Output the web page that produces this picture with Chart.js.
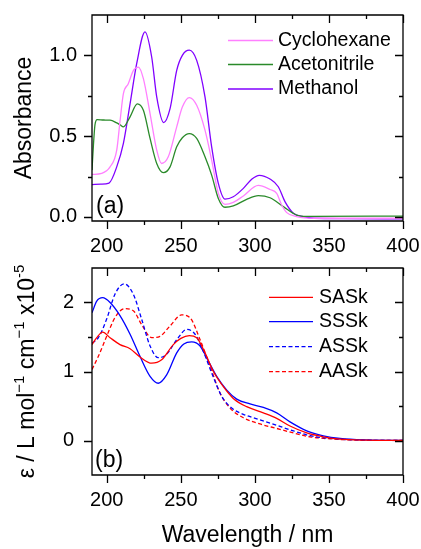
<!DOCTYPE html>
<html>
<head>
<meta charset="utf-8">
<script src="https://cdn.jsdelivr.net/npm/chart.js@4.4.1/dist/chart.umd.min.js"></script>
<style>
  html, body { margin: 0; padding: 0; background: #fff; }
  #wrap { position: relative; width: 421px; height: 549px; overflow: hidden; }
  canvas { position: absolute; left: 0; }
  #chartA { top: 0; }
  #chartB { top: 250px; }
</style>
</head>
<body>
<div id="wrap">
  <canvas id="chartA" width="421" height="265"></canvas>
  <canvas id="chartB" width="421" height="299"></canvas>
</div>
<script>
// ticks
const xTicks = [200, 250, 300, 350, 400];
const xMinorTicks = [225, 275, 325, 375];
const absTicks = [0, 0.5, 1.0];
const absMinorTicks = [0.25, 0.75];
const epsTicks = [0, 1, 2];
const epsMinorTicks = [0.5, 1.5];

const solventLabels = ['Cyclohexane', 'Acetonitrile', 'Methanol'];
const isomerLabels = ['SASk', 'SSSk', 'ASSk', 'AASk'];

// (a) absorbance in three solvents
const cyclohexaneWl  = [190, 196.5, 202.2, 206.7, 209, 211.2, 214.5, 218, 221.3, 224.7, 229.2, 233.7, 237, 241.5, 247.2, 251, 255.7, 260.7, 266.3, 270.8, 275.3, 279.8, 285.4, 292.2, 302.3, 310.2, 314.7, 318.1, 321.5, 328.2, 340, 400];
const cyclohexaneAbs = [0.263, 0.27, 0.31, 0.414, 0.6, 0.763, 0.825, 0.907, 0.928, 0.856, 0.64, 0.414, 0.331, 0.372, 0.558, 0.68, 0.739, 0.691, 0.537, 0.352, 0.146, 0.078, 0.09, 0.13, 0.195, 0.17, 0.146, 0.074, 0.027, 0.002, -0.008, -0.008];

const acetonitrileWl  = [190, 191, 192, 193.5, 198, 202.2, 206.7, 209, 211.2, 215.7, 220.6, 224.7, 229.2, 233.7, 238.2, 242.7, 247.2, 251, 255.7, 260.7, 266.3, 270.8, 275.3, 279.8, 285.4, 294.4, 302.3, 310.2, 319.2, 328.2, 335, 400];
const acetonitrileAbs = [0.29, 0.45, 0.57, 0.603, 0.60, 0.599, 0.582, 0.57, 0.558, 0.62, 0.70, 0.66, 0.486, 0.331, 0.274, 0.31, 0.434, 0.49, 0.516, 0.486, 0.372, 0.259, 0.115, 0.06, 0.068, 0.109, 0.132, 0.119, 0.064, 0.012, 0.004, 0.005];

const methanolWl  = [190, 196, 201.5, 206.7, 211.2, 215.7, 220.2, 225.8, 230.3, 233.7, 238.4, 242.7, 247.2, 251, 255.7, 260.7, 266.3, 270.8, 275.3, 279.8, 285.4, 292.2, 298, 303, 310.2, 315.8, 320.3, 326, 332.7, 340, 360, 400];
const methanolAbs = [0.20, 0.203, 0.21, 0.31, 0.455, 0.70, 0.95, 1.145, 0.99, 0.743, 0.584, 0.67, 0.907, 1.0, 1.032, 0.969, 0.743, 0.434, 0.208, 0.111, 0.125, 0.177, 0.235, 0.258, 0.235, 0.187, 0.095, 0.023, 0.002, -0.008, -0.01, -0.012];

// (b) molar absorptivity, x1e-5
const sasWl  = [190, 193.2, 197.2, 202.2, 208.9, 215.7, 222.4, 230.3, 237, 244.9, 250, 255.7, 260.7, 266.3, 272, 278.7, 285.4, 294.4, 305.7, 314.7, 323.7, 335, 346.2, 357.5, 375, 400];
const sasEps = [1.39, 1.49, 1.57, 1.49, 1.39, 1.33, 1.21, 1.12, 1.17, 1.39, 1.48, 1.52, 1.49, 1.27, 1.00, 0.78, 0.61, 0.49, 0.40, 0.32, 0.21, 0.11, 0.054, 0.02, 0.005, 0];

const sssWl  = [190, 193.2, 197.2, 202.2, 208.9, 215.7, 222.4, 229.2, 234.8, 240.4, 247.2, 252, 257.3, 263, 268.6, 274.2, 281, 287.7, 296.7, 305.7, 314.7, 323.7, 335, 346.2, 357.5, 375, 400];
const sssEps = [1.85, 2.02, 2.07, 2.0, 1.81, 1.54, 1.22, 0.93, 0.83, 0.95, 1.27, 1.40, 1.43, 1.37, 1.15, 0.93, 0.73, 0.60, 0.53, 0.48, 0.40, 0.27, 0.14, 0.068, 0.03, 0.008, 0];

const assWl  = [190, 194.3, 199.9, 205.5, 211.8, 217.9, 223.5, 229.2, 234.8, 240.4, 247.2, 254, 259.6, 265.2, 270.8, 277.6, 284.3, 292.2, 303.4, 314.7, 326, 337.2, 350.7, 370, 400];
const assEps = [1.41, 1.49, 1.76, 2.12, 2.27, 2.12, 1.76, 1.37, 1.20, 1.25, 1.46, 1.61, 1.54, 1.29, 0.98, 0.64, 0.47, 0.38, 0.30, 0.22, 0.14, 0.07, 0.03, 0.008, 0];

const aasWl  = [190, 194.3, 199.9, 205.5, 211.8, 217.9, 223.5, 230.3, 235.9, 242.7, 250.5, 256.2, 263, 269.7, 276.4, 283.2, 292.2, 303.4, 314.7, 326, 337.2, 350.7, 370, 400];
const aasEps = [1.03, 1.22, 1.51, 1.78, 1.91, 1.88, 1.68, 1.49, 1.51, 1.66, 1.82, 1.78, 1.46, 1.08, 0.69, 0.47, 0.33, 0.24, 0.175, 0.11, 0.054, 0.024, 0.006, 0];

const FONT = "'Liberation Sans', Arial, sans-serif";
Chart.defaults.font.family = FONT;
Chart.defaults.color = '#000';

const pts = (xs, ys) => xs.map((x, i) => ({ x: x, y: ys[i] }));

function lineSet(label, xs, ys, color, dash) {
  return {
    label: label,
    data: pts(xs, ys),
    borderColor: color,
    backgroundColor: color,
    borderWidth: 1.3,
    borderDash: dash || [],
    pointRadius: 0,
    cubicInterpolationMode: 'monotone',
    fill: false
  };
}

// box around the plot with ticks: out on left/bottom, in on top/right
function frameTicks(xMaj, xMin, yMaj, yMin) {
  return {
    id: 'frameTicks',
    afterDraw(chart) {
      const ctx = chart.ctx;
      const a = chart.chartArea;
      const sx = chart.scales.x, sy = chart.scales.y;
      ctx.save();
      ctx.setLineDash([]);
      ctx.strokeStyle = '#000';
      ctx.lineWidth = 1.3;
      ctx.beginPath();
      const xt = (v, len) => {
        const p = Math.round(sx.getPixelForValue(v)) + 0.5;
        ctx.moveTo(p, a.bottom); ctx.lineTo(p, a.bottom + len);
        ctx.moveTo(p, a.top); ctx.lineTo(p, a.top + len);
      };
      const yt = (v, len) => {
        const p = Math.round(sy.getPixelForValue(v)) + 0.5;
        ctx.moveTo(a.left - len, p); ctx.lineTo(a.left, p);
        ctx.moveTo(a.right - len, p); ctx.lineTo(a.right, p);
      };
      xMaj.forEach(v => xt(v, 8));
      xMin.forEach(v => xt(v, 4));
      yMaj.forEach(v => yt(v, 8));
      yMin.forEach(v => yt(v, 4));
      ctx.rect(a.left, a.top, a.right - a.left, a.bottom - a.top);
      ctx.stroke();
      ctx.restore();
    }
  };
}

function inLegend(lx1, lx2, tx, rows) {
  return {
    id: 'inLegend',
    afterDraw(chart) {
      const ctx = chart.ctx;
      ctx.save();
      ctx.font = '19.5px ' + FONT;
      ctx.textBaseline = 'middle';
      ctx.fillStyle = '#000';
      chart.data.datasets.forEach((ds, i) => {
        const ry = rows[i];
        ctx.strokeStyle = ds.borderColor;
        ctx.lineWidth = ds.borderWidth;
        ctx.setLineDash(ds.borderDash);
        ctx.beginPath();
        ctx.moveTo(lx1, ry); ctx.lineTo(lx2, ry);
        ctx.stroke();
        ctx.setLineDash([]);
        ctx.fillText(ds.label, tx, ry);
      });
      ctx.restore();
    }
  };
}

function panelTag(text, x, base) {
  return {
    id: 'panelTag',
    afterDraw(chart) {
      const ctx = chart.ctx;
      ctx.save();
      ctx.font = '23px ' + FONT;
      ctx.fillStyle = '#000';
      ctx.textBaseline = 'alphabetic';
      ctx.fillText(text, x, base);
      ctx.restore();
    }
  };
}

// rotated y title with superscripts
const epsTitleParts = [['ε / L mol', false], ['−1', true], [' cm', false], ['−1', true], [' x10', false], ['-5', true]];
function richTitle(parts, cx) {
  return {
    id: 'richTitle',
    afterDraw(chart) {
      const ctx = chart.ctx;
      const a = chart.chartArea;
      const big = '23px ' + FONT, small = '15px ' + FONT;
      ctx.save();
      ctx.fillStyle = '#000';
      ctx.textBaseline = 'middle';
      ctx.textAlign = 'left';
      let total = 0;
      parts.forEach(([t, sup]) => { ctx.font = sup ? small : big; total += ctx.measureText(t).width; });
      ctx.translate(cx, (a.top + a.bottom) / 2);
      ctx.rotate(-Math.PI / 2);
      let px = -total / 2;
      parts.forEach(([t, sup]) => {
        ctx.font = sup ? small : big;
        ctx.fillText(t, px, sup ? -8 : 0);
        px += ctx.measureText(t).width;
      });
      ctx.restore();
    }
  };
}

function xScale(axisHeight, title) {
  return {
    type: 'linear',
    min: 190,
    max: 400,
    afterBuildTicks: s => { s.ticks = xTicks.map(v => ({ value: v })); },
    afterFit: s => { s.height = axisHeight; s.paddingLeft = 0; s.paddingRight = 0; },
    grid: { display: false, drawTicks: false },
    border: { display: false },
    ticks: { font: { size: 20 }, padding: 13, color: '#000', maxRotation: 0 },
    title: title ? { display: true, text: title, font: { size: 23 }, color: '#000', padding: 0 } : { display: false }
  };
}

function yScale(min, max, ticks, fmt, pad, title) {
  return {
    type: 'linear',
    min: min,
    max: max,
    afterBuildTicks: s => { s.ticks = ticks.map(v => ({ value: v })); },
    afterFit: s => { s.width = 92; s.paddingTop = 0; s.paddingBottom = 0; },
    grid: { display: false, drawTicks: false },
    border: { display: false },
    ticks: { font: { size: 20 }, padding: pad, color: '#000', callback: fmt },
    title: title ? { display: true, text: title, font: { size: 23 }, color: '#000', padding: { top: 11, bottom: 0 } } : { display: false }
  };
}

const common = {
  responsive: false,
  animation: false,
  events: [],
  plugins: { legend: { display: false }, tooltip: { enabled: false } }
};

new Chart(document.getElementById('chartA'), {
  type: 'line',
  data: {
    datasets: [
      lineSet(solventLabels[0], cyclohexaneWl, cyclohexaneAbs, '#ff80ff'),
      lineSet(solventLabels[1], acetonitrileWl, acetonitrileAbs, '#2a8a2a'),
      lineSet(solventLabels[2], methanolWl, methanolAbs, '#8000ff')
    ]
  },
  options: Object.assign({}, common, {
    layout: { padding: { top: 15, right: 18, left: 0, bottom: 0 } },
    scales: {
      x: xScale(44, null),
      y: yScale(-0.025, 1.25, absTicks, v => v.toFixed(1), 15, 'Absorbance')
    }
  }),
  plugins: [frameTicks(xTicks, xMinorTicks, absTicks, absMinorTicks),
            inLegend(228, 273, 278, [40.5, 64.5, 89]),
            panelTag('(a)', 96, 213)]
});

new Chart(document.getElementById('chartB'), {
  type: 'line',
  data: {
    datasets: [
      lineSet(isomerLabels[0], sasWl, sasEps, '#ff0000'),
      lineSet(isomerLabels[1], sssWl, sssEps, '#0000ff'),
      lineSet(isomerLabels[2], assWl, assEps, '#0000ff', [4, 2.5]),
      lineSet(isomerLabels[3], aasWl, aasEps, '#ff0000', [4, 2.5])
    ]
  },
  options: Object.assign({}, common, {
    layout: { padding: { top: 18, right: 18, left: 0, bottom: 0 } },
    scales: {
      x: xScale(74, 'Wavelength / nm'),
      y: yScale(-0.5, 2.5, epsTicks, v => String(v), 18, null)
    }
  }),
  plugins: [frameTicks(xTicks, xMinorTicks, epsTicks, epsMinorTicks),
            inLegend(269, 313, 319, [47.3, 71.7, 96.7, 121.7]),
            panelTag('(b)', 95, 217),
            richTitle(epsTitleParts, 27.5)]
});
</script>
</body>
</html>
